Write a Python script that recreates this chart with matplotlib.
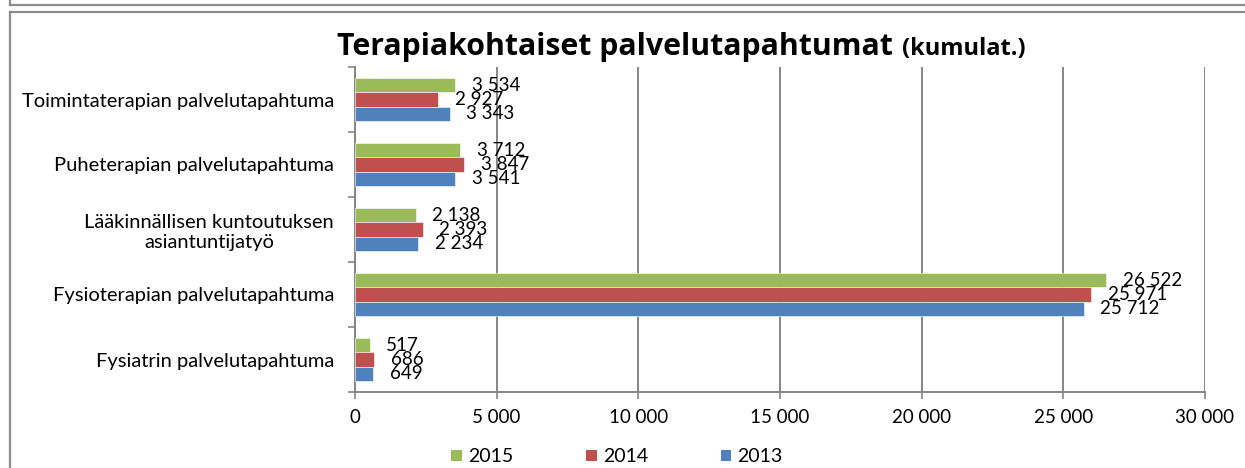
import matplotlib.pyplot as plt
from matplotlib.patches import Patch
from matplotlib.lines import Line2D

# data (bottom -> top in the chart)
categories = [
    "Fysiatrin palvelutapahtuma",
    "Fysioterapian palvelutapahtuma",
    "Lääkinnällisen kuntoutuksen\nasiantuntijatyö",
    "Puheterapian palvelutapahtuma",
    "Toimintaterapian palvelutapahtuma",
]
years = ["2015", "2014", "2013"]
v2015 = [517, 26522, 2138, 3712, 3534]
v2014 = [686, 25971, 2393, 3847, 2927]
v2013 = [649, 25712, 2234, 3541, 3343]
x_ticks = [0, 5000, 10000, 15000, 20000, 25000, 30000]

colors = {"2015": "#9BBB59", "2014": "#C0504D", "2013": "#4F81BD"}
grey = "#868686"
plt.rcParams['font.family'] = ['Lato', 'DejaVu Sans']

fig = plt.figure(figsize=(12.45, 4.68), dpi=100)
ax = fig.add_axes([355 / 1245, 1 - 392 / 468, 850 / 1245, 325 / 468])

h = 0.22
series = {"2015": v2015, "2014": v2014, "2013": v2013}
offsets = {"2015": h, "2014": 0.0, "2013": -h}
ypos = list(range(len(categories)))

for yr in years:
    vals = series[yr]
    ys = [y + offsets[yr] for y in ypos]
    ax.barh(ys, vals, height=h, color=colors[yr], edgecolor="white", linewidth=0.4, zorder=3)
    for y, v in zip(ys, vals):
        ax.annotate(f"{v:,}".replace(",", " "), (v, y), xytext=(12, 0),
                    textcoords="offset points", ha="left", va="center",
                    fontsize=13.5, color="black", zorder=4)

ax.set_xlim(0, 30000)
ax.set_ylim(-0.5, len(categories) - 0.5)

ax.set_xticks(x_ticks)
ax.set_xticklabels([f"{t:,}".replace(",", " ") for t in x_ticks], fontsize=13.5)
ax.xaxis.grid(True, color=grey, linewidth=1.4, zorder=0)
ax.tick_params(axis="x", direction="out", length=5, width=1.2, color=grey, pad=7)

# category separators as major ticks, labels as minor ticks
ax.set_yticks([i - 0.5 for i in range(len(categories) + 1)])
ax.set_yticklabels([])
ax.set_yticks(ypos, minor=True)
ax.set_yticklabels(categories, minor=True, fontsize=14.5)
ax.tick_params(axis="y", which="major", direction="out", length=5, width=1.2, color=grey)
ax.tick_params(axis="y", which="minor", length=0, pad=15)
for lbl in ax.get_yticklabels(minor=True):
    lbl.set_multialignment("center")

for side in ["top", "right"]:
    ax.spines[side].set_visible(False)
for side in ["left", "bottom"]:
    ax.spines[side].set_color(grey)
    ax.spines[side].set_linewidth(1.4)

# title in two parts
fig.text(893 / 1245, 1 - 55 / 468, "Terapiakohtaiset palvelutapahtumat", ha="right",
         va="baseline", fontsize=21.8, fontweight="bold", family=["Open Sans", "DejaVu Sans"])
fig.text(902 / 1245, 1 - 55 / 468, "(kumulat.)", ha="left", va="baseline",
         fontsize=17, fontweight="bold", family=["Open Sans", "DejaVu Sans"])

handles = [Patch(facecolor=colors[yr], label=yr) for yr in years]
fig.legend(handles=handles, loc="center", bbox_to_anchor=(617 / 1245, 1 - 457 / 468),
           ncol=3, frameon=False, fontsize=14, handlelength=0.55, handleheight=0.55,
           handletextpad=0.3, columnspacing=3.75)

# outer frame lines
lc = "#8c8c8c"
fig.add_artist(Line2D([10 / 1245, 10 / 1245], [0, 1 - 12 / 468], color=lc, lw=1.6))
fig.add_artist(Line2D([10 / 1245, 1], [1 - 12 / 468, 1 - 12 / 468], color=lc, lw=1.6))
fig.add_artist(Line2D([10 / 1245, 1], [1 - 5 / 468, 1 - 5 / 468], color=lc, lw=1.6))
fig.add_artist(Line2D([10 / 1245, 10 / 1245], [1 - 5 / 468, 1], color=lc, lw=1.6))

fig.savefig("out.png", dpi=100)
